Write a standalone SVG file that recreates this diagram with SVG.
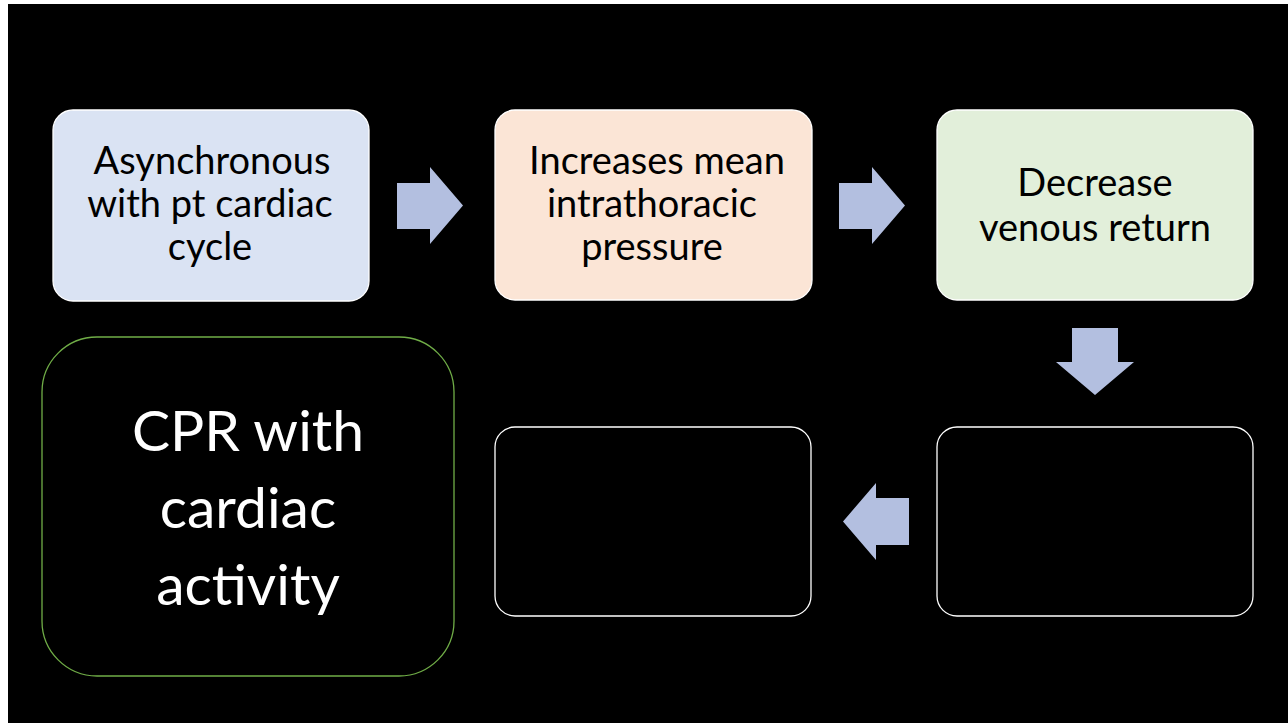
<svg xmlns="http://www.w3.org/2000/svg" width="1288" height="723" viewBox="0 0 1288 723">
<style>
.box{stroke:#ffffff;stroke-width:1.3}
.t{font-family:Lato,"Liberation Sans",sans-serif;text-anchor:middle}
.dark{font-size:38px;fill:#000000}
.big{font-size:57px;fill:#ffffff}
.arrow{fill:#b3bfe0}
</style>
<rect x="0" y="0" width="1288" height="723" fill="#ffffff"/>
<rect x="8" y="4" width="1280" height="719" fill="#000000"/>
<g id="node-async">
<rect class="box" x="53" y="110" width="316" height="191" rx="20" fill="#dae3f3"/>
<text class="t dark" x="212" y="174">Asynchronous</text>
<text class="t dark" x="210" y="217">with pt cardiac</text>
<text class="t dark" x="210" y="260">cycle</text>
</g>
<g id="node-pressure">
<rect class="box" x="495" y="110" width="317" height="190" rx="20" fill="#fbe5d6"/>
<text class="t dark" x="657" y="174">Increases mean</text>
<text class="t dark" x="652" y="217">intrathoracic</text>
<text class="t dark" x="652" y="260">pressure</text>
</g>
<g id="node-venous">
<rect class="box" x="937" y="110" width="316" height="190" rx="20" fill="#e2efda"/>
<text class="t dark" x="1095" y="196">Decrease</text>
<text class="t dark" x="1095" y="241">venous return</text>
</g>
<g id="node-empty-right">
<rect class="box" x="937" y="427" width="316" height="189" rx="20" fill="#000000"/>
</g>
<g id="node-empty-middle">
<rect class="box" x="495" y="427" width="316" height="189" rx="20" fill="#000000"/>
</g>
<g id="node-cpr">
<rect x="42" y="337" width="412" height="339" rx="55" fill="#000000" stroke="#70ad47" stroke-width="1.3"/>
<text class="t big" x="248" y="451">CPR with</text>
<text class="t big" x="248" y="528">cardiac</text>
<text class="t big" x="248" y="605">activity</text>
</g>
<g id="connectors">
<polygon class="arrow" points="397,183 430,183 430,167 463,205.5 430,244 430,229 397,229"/>
<polygon class="arrow" points="839,183 872,183 872,167 905,205.5 872,244 872,229 839,229"/>
<polygon class="arrow" points="1072,328 1118,328 1118,362 1134,362 1095,395 1056,362 1072,362"/>
<polygon class="arrow" points="909,498 876,498 876,483 843,521.5 876,560 876,545 909,545"/>
</g>
</svg>
